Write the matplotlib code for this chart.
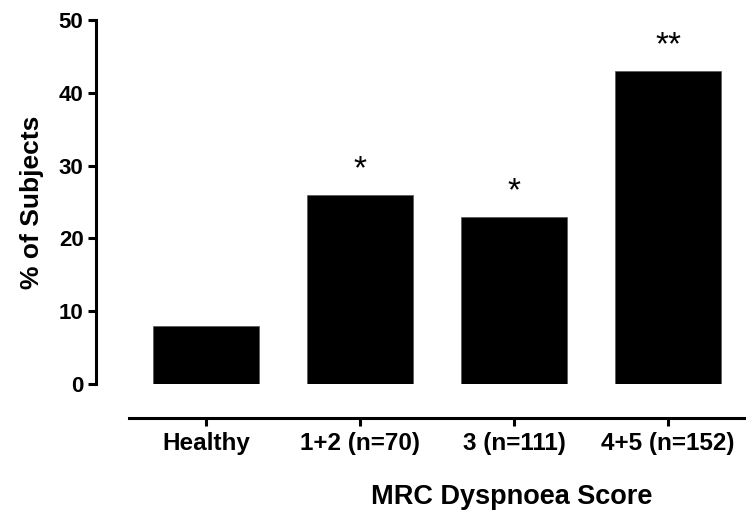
import matplotlib.pyplot as plt
import numpy as np

plt.rcParams["font.family"] = ["Liberation Sans", "DejaVu Sans"]
plt.rcParams["font.weight"] = "bold"

categories = ["Healthy", "1+2 (n=70)", "3 (n=111)", "4+5 (n=152)"]
percent_subjects = [8, 26, 23, 43]
significance = ["", "*", "*", "**"]

W, H = 746, 521
fig = plt.figure(figsize=(W / 100, H / 100), dpi=100)
# axes box in pixels: left spine at x=96, y from 20 (top) to 384 (zero)
ax = fig.add_axes([96 / W, (H - 384) / H, (W - 96) / W, (384 - 20) / H])

x = np.arange(len(categories))
ax.bar(x, percent_subjects, width=0.69, color="black", edgecolor="#555555", linewidth=0.5)

for xi, val, s in zip(x, percent_subjects, significance):
    if s:
        ax.annotate(s, (xi, val), xytext=(0, 7), textcoords="offset points",
                    ha="center", va="bottom", fontsize=24, fontweight="normal")

ax.set_xlim(-(206 - 96) / 154, 3 + (746 - 668) / 154)
ax.set_ylim(0, 50)
ax.set_yticks([0, 10, 20, 30, 40, 50])
ax.set_xticks(x)
ax.set_xticklabels(categories)

for side in ["top", "right"]:
    ax.spines[side].set_visible(False)
ax.spines["left"].set_linewidth(2.2)
ax.spines["bottom"].set_linewidth(2.2)
ax.spines["bottom"].set_position(("outward", 24.5))
ax.spines["bottom"].set_bounds((129 - 206) / 154, 3 + (746 - 668) / 154)

ax.tick_params(axis="both", width=2.2, length=6)
ax.tick_params(axis="y", labelsize=16, pad=3)
ax.tick_params(axis="x", labelsize=17.5, pad=4)

ax.set_ylabel("% of Subjects", fontsize=19, fontweight="bold")
ax.yaxis.set_label_coords(-(96 - 32) / (W - 96), 0.5)
ax.yaxis.label.set_va("center")
fig.text(512 / W, 1 - 497 / H, "MRC Dyspnoea Score", fontsize=19.5,
         fontweight="bold", ha="center", va="center")

fig.savefig("out.png", dpi=100, facecolor="white")
